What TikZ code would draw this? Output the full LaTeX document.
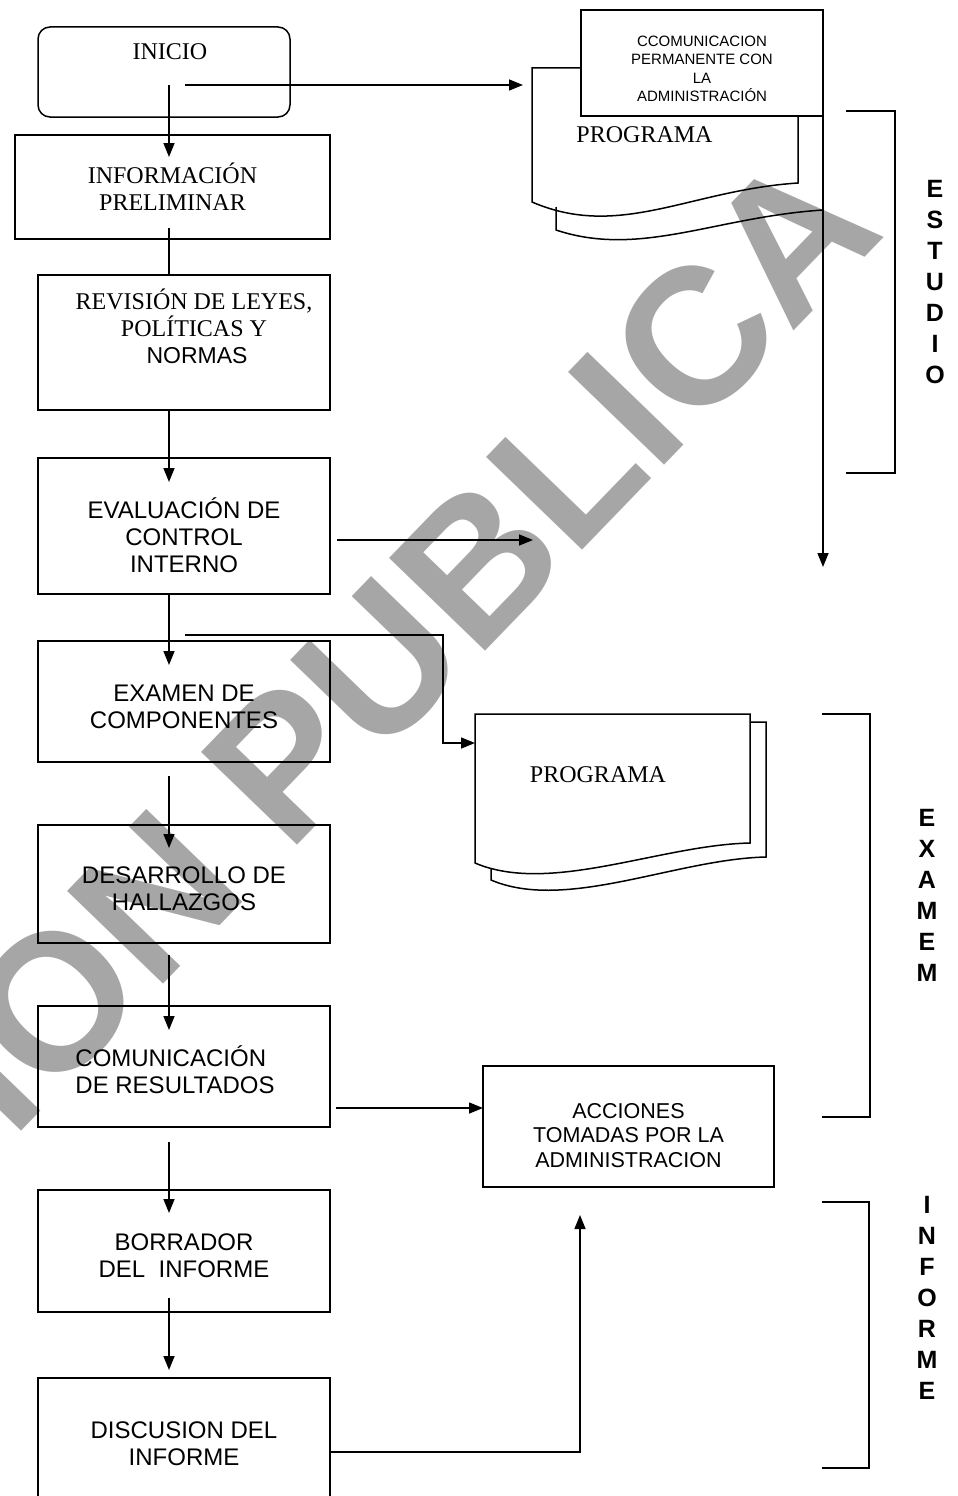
\documentclass[tikz,border=0pt]{standalone}
\usepackage{fontspec}
\setmainfont{Liberation Serif}
\setsansfont{Liberation Sans}
\usetikzlibrary{
    arrows.meta,
    calc,
    positioning
}
\tikzset{
    every picture/.style = {
        > = {Triangle[length = 14pt, width = 11pt]},
        line width = 1.5pt
    },
    every node/.style = {
        inner sep = 1pt,
        outer sep = 0pt,
        align = center
    },
    process/.style = {
        draw,
        minimum width = 292pt,
        font = \sffamily\fontsize{24}{27}\selectfont
    },
    serifbox/.style = {
        process,
        font = \rmfamily\fontsize{24}{27}\selectfont
    },
    startbox/.style = {
        serifbox,
        rounded corners = 12pt,
        minimum width = 252pt,
        minimum height = 90pt
    },
    doctext/.style = {
        font = \rmfamily\fontsize{24}{27}\selectfont
    },
    phase/.style = {
        font = \sffamily\bfseries\fontsize{25}{31}\selectfont
    },
    wmark/.style = {
        text = gray!70,
        font = \sffamily\bfseries\fontsize{194}{194}\selectfont
    }
}

\begin{document}
\begin{tikzpicture}[x = 1pt, y = -1pt]
    \path[use as bounding box, clip] (0,0) rectangle (958,1496);

    % watermark
    \node[wmark, rotate = 46] (wm) at (402,641) {ION PUBLICA};

    \coordinate (spine) at (169,0);

    % left column
    \node[startbox] (ini) at (164,72) {\hspace*{12pt}INICIO\\[13pt]\mbox{}};
    \node[serifbox, minimum width = 315pt, minimum height = 104pt] (info) at (172.5,187) {INFORMACIÓN\\PRELIMINAR};
    \node[serifbox, minimum height = 135pt] (rev) at (184,342.5) {\hspace*{20pt}REVISIÓN DE LEYES,\\\hspace*{20pt}POLÍTICAS Y\\\hspace*{26pt}{\sffamily\fontsize{23}{27}\selectfont NORMAS}\\[5pt]\mbox{}};
    \node[process, minimum height = 136pt] (eval) at (184,526) {\mbox{}\\[12pt]EVALUACIÓN DE\\CONTROL\\INTERNO};
    \node[process, minimum height = 121pt] (exam) at (184,701.5) {\mbox{}\\EXAMEN DE\\COMPONENTES};
    \node[process, minimum height = 118pt] (des) at (184,884) {\mbox{}\\DESARROLLO DE\\HALLAZGOS};
    \node[process, minimum height = 121pt, align = left] (com) at (184,1066.5) {\mbox{}\\COMUNICACIÓN\\DE RESULTADOS\hspace*{18pt}};
    \node[process, minimum height = 122pt] (bor) at (184,1251) {\mbox{}\\BORRADOR\\DEL\ \ INFORME};
    \node[process, minimum height = 148pt] (disc) at (184,1452) {DISCUSION DEL\\INFORME\\[-10pt]\mbox{}};

    % right column
    \node[draw, minimum width = 242pt, minimum height = 106pt, font = \sffamily\fontsize{15}{18.5}\selectfont] (ccom) at (702,63) {\mbox{}\\[4pt]CCOMUNICACION\\PERMANENTE CON\\LA\\ADMINISTRACIÓN};
    \node[doctext] (prog1) at (644.5,135) {PROGRAMA};
    \node[doctext] (prog2) at (598,775) {PROGRAMA};
    \node[process, minimum width = 291pt, minimum height = 121pt, font = \sffamily\fontsize{21.5}{24.5}\selectfont] (acc) at (628.5,1126.5) {\mbox{}\\[8.5pt]ACCIONES\\TOMADAS POR LA\\ADMINISTRACION};

    % documents
    \draw (581,68) -- (532,68) -- (532,202) .. controls (620,240) and (690,190) .. (798,183) -- (798,116);
    \draw (556,207) -- (556,230) .. controls (640,258) and (715,217) .. (823,210);
    \draw (475,714) -- (750,714) -- (750,843) .. controls (660,845) and (550,895) .. (475,863) -- cycle;
    \draw (750,722) -- (766,722) -- (766,857) .. controls (676,859) and (566,912) .. (491,880) -- (491,869);

    % phases
    \node[phase] (estudio) at (935,282) {E\\S\\T\\U\\D\\I\\O};
    \node[phase] (examen) at (927,895) {E\\X\\A\\M\\E\\M};
    \node[phase] (informe) at (927,1298) {I\\N\\F\\O\\R\\M\\E};
    \draw (846,111) -- (895,111) -- (895,473) -- (846,473);
    \draw (822,714) -- (870,714) -- (870,1117) -- (822,1117);
    \draw (822,1202) -- (869,1202) -- (869,1468) -- (822,1468);

    % connectors
    \coordinate (p1in) at (532,85);
    \coordinate (estout) at (823,567);
    \coordinate (evout) at (533,540);
    \coordinate (tap) at (185,635);
    \coordinate (p2in) at (475,743);
    \coordinate (accin) at (483,1108);

    \path[->] ($(ini.center -| spine)+(0,13)$) edge ($(info.north -| spine)+(0,22)$);
    \draw ($(info.south -| spine)+(0,-11)$) -- (rev.north -| spine);
    \path[->] (rev.south -| spine) edge ($(eval.north -| spine)+(0,24)$);
    \path[->] (eval.south -| spine) edge ($(exam.north -| spine)+(0,24)$);
    \path[->] ($(exam.south -| spine)+(0,14)$) edge ($(des.north -| spine)+(0,23)$);
    \path[->] ($(des.south -| spine)+(0,12)$) edge ($(com.north -| spine)+(0,24)$);
    \path[->] ($(com.south -| spine)+(0,15)$) edge ($(bor.north -| spine)+(0,23)$);
    \path[->] ($(bor.south -| spine)+(0,-14)$) edge ($(disc.north -| spine)+(0,-8)$);

    \draw[->, shorten >= 9pt] ($(ini.center)+(21,13)$) -- (p1in);
    \draw[->] (ccom.north east) -- (estout);
    \draw[->, shorten <= 7pt] (eval.east |- evout) -- (evout);
    \draw[->] (tap) -| ($(p2in)+(-32,0)$) -- (p2in);
    \draw[->, shorten <= 6pt] (com.east |- accin) -- (accin);
    \draw[->] (disc.east) -| ($(acc.south)+(-48.5,28)$);
\end{tikzpicture}
\end{document}
